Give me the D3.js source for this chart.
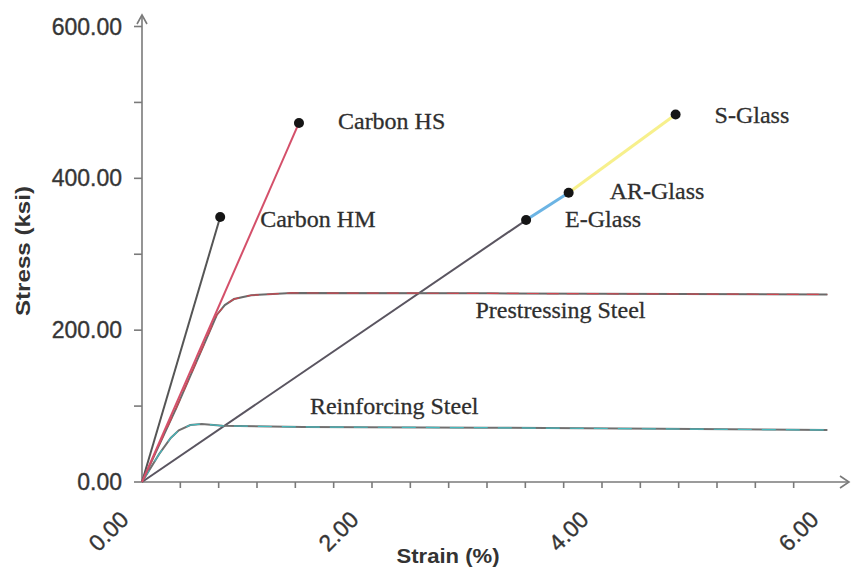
<!DOCTYPE html>
<html>
<head>
<meta charset="utf-8">
<script src="https://cdn.jsdelivr.net/npm/d3@7"></script>
<style>
  body { margin: 0; background: #fff; }
  svg { display: block; }
</style>
</head>
<body>
<div id="chart"></div>
<script>
// values: strain in %, stress in ksi
const carbonHM = [[0, 0], [0.68, 349]];
const carbonHS = [[0, 0], [1.365, 473]];
const eGlass = [[0, 0], [3.34, 345]];
const arGlass = [[3.34, 345], [3.71, 381]];
const sGlass = [[3.71, 381], [4.64, 484]];
const prestressingSteel = [[0, 0], [0.3, 98], [0.55, 185], [0.65, 220], [0.72, 233], [0.8, 241],
  [0.95, 246], [1.3, 249], [3, 248.5], [5.96, 247]];
const reinforcingSteel = [[0, 0], [0.15, 37], [0.25, 58], [0.32, 68], [0.42, 75], [0.52, 76.5],
  [0.7, 74], [1.4, 72.5], [3, 71.5], [4.5, 70], [5.96, 68.5]];

const yTicks = [0, 200, 400, 600];
const yMinorTicks = [100, 300, 500];
const xTicks = [0, 2, 4, 6];

const width = 853;
const height = 572;

const svg = d3.select("#chart")
  .append("svg")
  .attr("width", width)
  .attr("height", height);

svg.append("rect").attr("width", width).attr("height", height).attr("fill", "#fff");

const x = d3.scaleLinear().domain([0, 6]).range([142, 832]);
const y = d3.scaleLinear().domain([0, 600]).range([482, 26.5]);

const axisColor = "#7a7a7a";

// axes drawn by hand, the original has arrow heads and no domain caps
const axes = svg.append("g").attr("stroke", axisColor).attr("stroke-width", 1.6).attr("fill", "none");
axes.append("line").attr("x1", x(0)).attr("x2", x(0)).attr("y1", y(0)).attr("y2", 15);
axes.append("path").attr("d", `M${x(0) - 5},24 L${x(0)},15 L${x(0) + 5},24`);
axes.append("line").attr("x1", x(0)).attr("x2", 849).attr("y1", y(0)).attr("y2", y(0));
axes.append("path").attr("d", `M840,${y(0) - 6} L849,${y(0)} L840,${y(0) + 6}`);

// tick marks
axes.selectAll(".ytick")
  .data(yTicks.concat(yMinorTicks))
  .join("line")
  .attr("x1", x(0) - 8).attr("x2", x(0))
  .attr("y1", d => y(d)).attr("y2", d => y(d));

axes.selectAll(".xtick")
  .data(d3.range(1, 18).map(i => i / 3))
  .join("line")
  .attr("x1", d => x(d)).attr("x2", d => x(d))
  .attr("y1", y(0)).attr("y2", y(0) + 6);

// tick labels
svg.append("g")
  .selectAll("text")
  .data(yTicks)
  .join("text")
  .attr("x", 122)
  .attr("y", d => y(d))
  .attr("dy", "0.35em")
  .attr("text-anchor", "end")
  .attr("font-family", "'Liberation Sans', Arial, sans-serif")
  .attr("font-size", 23)
  .attr("fill", "#333")
  .attr("stroke", "#444")
  .attr("stroke-width", 0.4)
  .text(d => d3.format(".2f")(d));

svg.append("g")
  .selectAll("text")
  .data(xTicks)
  .join("text")
  .attr("transform", d => `translate(${x(d) - 12},${y(0) + 39}) rotate(-45)`)
  .attr("text-anchor", "end")
  .attr("font-family", "'Liberation Sans', Arial, sans-serif")
  .attr("font-size", 23)
  .attr("fill", "#333")
  .attr("stroke", "#444")
  .attr("stroke-width", 0.4)
  .text(d => d3.format(".2f")(d));

// axis titles
svg.append("text")
  .attr("transform", "translate(30,251) rotate(-90)")
  .attr("text-anchor", "middle")
  .attr("font-family", "'Liberation Sans', Arial, sans-serif")
  .attr("font-weight", "bold")
  .attr("font-size", 21)
  .attr("textLength", 130)
  .attr("lengthAdjust", "spacingAndGlyphs")
  .attr("fill", "#333")
  .text("Stress (ksi)");

svg.append("text")
  .attr("x", 448)
  .attr("y", 563)
  .attr("text-anchor", "middle")
  .attr("font-family", "'Liberation Sans', Arial, sans-serif")
  .attr("font-weight", "bold")
  .attr("font-size", 21)
  .attr("textLength", 103)
  .attr("lengthAdjust", "spacingAndGlyphs")
  .attr("fill", "#333")
  .text("Strain (%)");

// curves
const line = d3.line().x(d => x(d[0])).y(d => y(d[1]));

const series = [
  { data: eGlass, stroke: "#5a5560", width: 2 },
  { data: arGlass, stroke: "#6cb4e4", width: 3 },
  { data: sGlass, stroke: "#f7f08c", width: 3 },
  { data: reinforcingSteel, stroke: "#707070", width: 2 },
  { data: reinforcingSteel, stroke: "#45b8bc", width: 1.2, dash: "14 10" },
  { data: prestressingSteel, stroke: "#6a6a6a", width: 2 },
  { data: prestressingSteel, stroke: "#cc4650", width: 1.2, dash: "12 8" },
  { data: carbonHM, stroke: "#555", width: 2 },
  { data: carbonHS, stroke: "#d4506a", width: 2 }
];

svg.append("g")
  .attr("fill", "none")
  .selectAll("path")
  .data(series)
  .join("path")
  .attr("d", d => line(d.data))
  .attr("stroke", d => d.stroke)
  .attr("stroke-width", d => d.width)
  .attr("stroke-dasharray", d => d.dash || null);

// failure points
const endPoints = [carbonHM[1], carbonHS[1], eGlass[1], arGlass[1], sGlass[1]];

svg.append("g")
  .selectAll("circle")
  .data(endPoints)
  .join("circle")
  .attr("cx", d => x(d[0]))
  .attr("cy", d => y(d[1]))
  .attr("r", 5)
  .attr("fill", "#151515");

// labels, anchored on a data point and shifted a little
const labels = [
  { text: "Carbon HM", at: carbonHM[1], dx: 40, dy: 10 },
  { text: "Carbon HS", at: carbonHS[1], dx: 39, dy: 6 },
  { text: "E-Glass", at: eGlass[1], dx: 39, dy: 7 },
  { text: "AR-Glass", at: arGlass[1], dx: 41, dy: 6 },
  { text: "S-Glass", at: sGlass[1], dx: 39, dy: 8 },
  { text: "Prestressing Steel", at: [2.9, 248], dx: 0, dy: 24 },
  { text: "Reinforcing Steel", at: [1.46, 72.5], dx: 0, dy: -13 }
];

svg.append("g")
  .selectAll("text")
  .data(labels)
  .join("text")
  .attr("x", d => x(d.at[0]) + d.dx)
  .attr("y", d => y(d.at[1]) + d.dy)
  .attr("font-family", "'Liberation Serif', 'Times New Roman', serif")
  .attr("font-size", 24)
  .attr("fill", "#2e2e2e")
  .attr("stroke", "#333")
  .attr("stroke-width", 0.3)
  .text(d => d.text);
</script>
</body>
</html>
